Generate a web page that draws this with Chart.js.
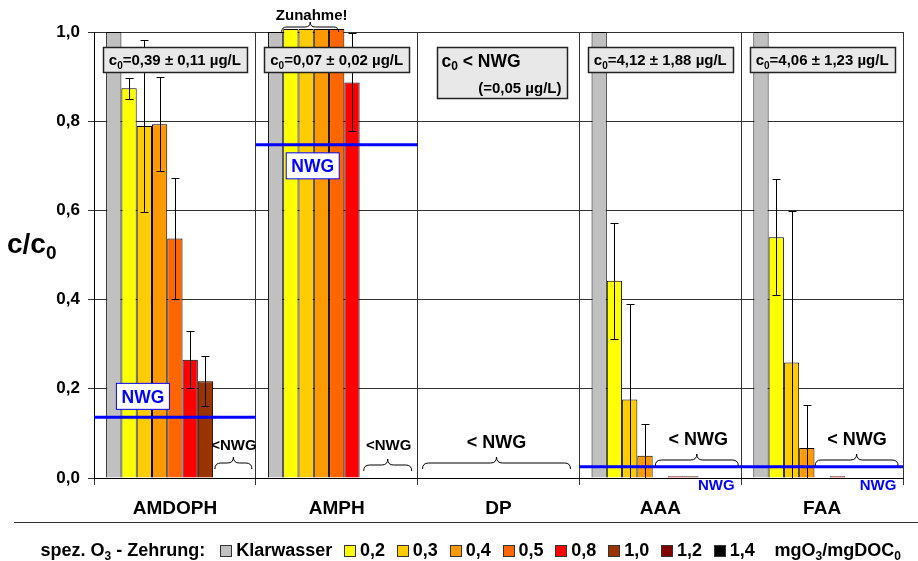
<!DOCTYPE html>
<html>
<head>
<meta charset="utf-8">
<script src="https://cdn.jsdelivr.net/npm/chart.js@4.4.1/dist/chart.umd.min.js"></script>
<style>
  html, body { margin: 0; padding: 0; background: #fff; }
</style>
</head>
<body>
<canvas id="chart" width="918" height="561"></canvas>
<script>
// categories and series
const categories = ['AMDOPH', 'AMPH', 'DP', 'AAA', 'FAA'];
const seriesLabels = ['Klarwasser', '0,2', '0,3', '0,4', '0,5', '0,8', '1,0', '1,2', '1,4'];
const seriesColors = ['#c0c0c0', '#ffff00', '#ffcc00', '#ff9900', '#ff6600', '#ff0000', '#993300', '#800000', '#000000'];

// c/c0 per category
const klarwasser = [1, 1, null, 1, 1];
const dose02 = [0.874, 1.007, null, 0.442, 0.54];
const dose03 = [0.789, 1.007, null, 0.176, 0.259];
const dose04 = [0.793, 1.007, null, 0.05, 0.067];
const dose05 = [0.537, 1.007, null, null, null];
const dose08 = [0.265, 0.887, null, 0.004, 0.004];
const dose10 = [0.217, null, null, 0.004, null];
const dose12 = [null, null, null, null, null];
const dose14 = [null, null, null, null, null];

// error bars [low, high]
const err02 = [[0.85, 0.897], null, null, [0.312, 0.572], [0.41, 0.67]];
const err03 = [[0.597, 0.982], null, null, [0, 0.39], [0, 0.599]];
const err04 = [[0.688, 0.899], null, null, [0, 0.12], [0, 0.164]];
const err05 = [[0.402, 0.672], null, null, null, null];
const err08 = [[0.202, 0.329], [0.777, 0.998], null, null, null];
const err10 = [[0.161, 0.273], null, null, null, null];

// limits and notes
const nwg = [0.136, 0.747, null, 0.025, 0.025];
const c0Text = ['c_0=0,39 ± 0,11 µg/L', 'c_0=0,07 ± 0,02 µg/L', 'c_0 < NWG', 'c_0=4,12 ± 1,88 µg/L', 'c_0=4,06 ± 1,23 µg/L'];
const c0Note = [null, null, '(=0,05 µg/L)', null, null];
const belowNwg = ['<NWG', '<NWG', '< NWG', '< NWG', '< NWG'];
const increaseText = [null, 'Zunahme!', null, null, null];

const yTicks = [0, 0.2, 0.4, 0.6, 0.8, 1.0];
const yTickLabels = ['0,0', '0,2', '0,4', '0,6', '0,8', '1,0'];
const yTitle = 'c/c_0';
const legendPrefix = 'spez. O_3 - Zehrung:';
const legendUnit = 'mgO_3/mgDOC_0';

const seriesValues = [klarwasser, dose02, dose03, dose04, dose05, dose08, dose10, dose12, dose14];
const errorSets = [null, err02, err03, err04, err05, err08, err10, null, null];

const F = "'Liberation Sans', Arial, sans-serif";

// split 'c_0' style strings into [text, isSub] parts
function parts(str) {
  const out = [];
  str.split(/_(\w)/).forEach((t, k) => { if (t) out.push([t, k % 2 === 1]); });
  return out;
}

function drawParts(ctx, str, x, y, size, align, color) {
  const p = parts(str);
  const subSize = Math.round(size * 0.68);
  const w = p.map(([t, s]) => { ctx.font = `bold ${s ? subSize : size}px ${F}`; return ctx.measureText(t).width; });
  const total = w.reduce((a, b) => a + b, 0);
  let cx = align === 'center' ? x - total / 2 : align === 'right' ? x - total : x;
  ctx.textAlign = 'left';
  ctx.textBaseline = 'alphabetic';
  ctx.fillStyle = color || '#000';
  p.forEach(([t, s], k) => {
    ctx.font = `bold ${s ? subSize : size}px ${F}`;
    ctx.fillText(t, cx, y + (s ? size * 0.22 : 0));
    cx += w[k];
  });
  return total;
}

function brace(ctx, x1, x2, y, h) {
  const mid = (x1 + x2) / 2;
  ctx.beginPath();
  ctx.moveTo(x1, y + h);
  ctx.quadraticCurveTo(x1, y, x1 + h, y);
  ctx.lineTo(mid - h, y);
  ctx.quadraticCurveTo(mid, y, mid, y - h);
  ctx.quadraticCurveTo(mid, y, mid + h, y);
  ctx.lineTo(x2 - h, y);
  ctx.quadraticCurveTo(x2, y, x2, y + h);
  ctx.stroke();
}

// offsets from category centre / plot bottom for the "<NWG" braces
const braceLayout = [
  { x1: 40, x2: 77, yb: -15, tx: 59, ty: -33, size: 15 },
  { x1: 27, x2: 75, yb: -13, tx: 52, ty: -33, size: 15 },
  { x1: -76, x2: 72, yb: -15, tx: -2, ty: -36, size: 18 },
  { x1: -5, x2: 78, yb: -18, tx: 38, ty: -39, size: 18 },
  { x1: -7, x2: 76, yb: -18, tx: 35, ty: -39, size: 18 }
];

const extras = {
  id: 'extras',
  afterDatasetsDraw(chart) {
    const { ctx, chartArea: a, scales: { x, y } } = chart;
    const catW = x.width / categories.length;
    ctx.save();

    // error bars
    errorSets.forEach((errs, d) => {
      if (!errs) return;
      const meta = chart.getDatasetMeta(d);
      errs.forEach((e, i) => {
        if (!e) return;
        const bx = Math.round(meta.data[i].x) + 0.5;
        const y1 = Math.round(y.getPixelForValue(e[0])) + 0.5;
        const y2 = Math.round(y.getPixelForValue(e[1])) + 0.5;
        ctx.strokeStyle = '#000';
        ctx.lineWidth = 1;
        ctx.beginPath();
        ctx.moveTo(bx, y1); ctx.lineTo(bx, y2);
        ctx.moveTo(bx - 4, y1); ctx.lineTo(bx + 4, y1);
        ctx.moveTo(bx - 4, y2); ctx.lineTo(bx + 4, y2);
        ctx.stroke();
      });
    });

    // NWG lines and labels
    nwg.forEach((v, i) => {
      if (v == null) return;
      const cx = x.getPixelForValue(i);
      const ly = y.getPixelForValue(v);
      ctx.strokeStyle = '#0000ff';
      ctx.lineWidth = 3;
      ctx.beginPath();
      ctx.moveTo(cx - catW / 2, ly);
      ctx.lineTo(cx + catW / 2, ly);
      ctx.stroke();
      let bx, by, boxed;
      if (i === 0) { bx = cx - 32; by = ly - 8 - 13; boxed = true; }
      else if (i === 1) { bx = cx - 24; by = ly + 8 + 13; boxed = true; }
      else { bx = cx + 56; by = a.bottom + 6; boxed = false; }
      if (boxed) {
        ctx.fillStyle = '#fff';
        ctx.fillRect(bx - 26.5, by - 13, 53, 26);
        ctx.strokeStyle = '#0000ff';
        ctx.lineWidth = 1;
        ctx.strokeRect(bx - 26.5, by - 13, 53, 26);
        drawParts(ctx, 'NWG', bx, by + 6.5, 17.5, 'center', '#0000ff');
      } else {
        ctx.fillStyle = '#fff';
        ctx.fillRect(bx - 19, by - 5, 38, 12);
        drawParts(ctx, 'NWG', bx, by + 5.5, 15, 'center', '#0000ff');
      }
    });

    // "<NWG" braces
    ctx.strokeStyle = '#000';
    ctx.lineWidth = 1;
    belowNwg.forEach((t, i) => {
      if (!t) return;
      const L = braceLayout[i];
      const cx = x.getPixelForValue(i);
      brace(ctx, cx + L.x1, cx + L.x2, a.bottom + L.yb, 6);
      drawParts(ctx, t, cx + L.tx, a.bottom + L.ty + L.size * 0.36, L.size, 'center');
    });

    // "Zunahme!"
    increaseText.forEach((t, i) => {
      if (!t) return;
      const cx = x.getPixelForValue(i);
      ctx.strokeStyle = '#000';
      ctx.lineWidth = 1;
      brace(ctx, cx - 55, cx + 2, a.top - 5, 5);
      drawParts(ctx, t, cx - 25, 20, 15, 'center');
    });

    // c0 boxes
    c0Text.forEach((t, i) => {
      if (!t) return;
      const cx = x.getPixelForValue(i);
      ctx.lineWidth = 1.5;
      ctx.strokeStyle = '#222';
      ctx.fillStyle = '#e8e8e8';
      if (c0Note[i]) {
        const bx = Math.round(cx - 62) + 0.5, by = a.top + 15.5;
        ctx.fillRect(bx, by, 130, 51);
        ctx.strokeRect(bx, by, 130, 51);
        drawParts(ctx, t, bx + 4, by + 13 + 6, 17.5, 'left');
        drawParts(ctx, c0Note[i], bx + 124, by + 40 + 5.5, 15, 'right');
      } else {
        const p = parts(t);
        let tw = 0;
        p.forEach(([s, sub]) => { ctx.font = `bold ${sub ? 10 : 15}px ${F}`; tw += ctx.measureText(s).width; });
        const w = Math.round(tw + 12);
        const bx = Math.round(cx - w / 2) + 0.5, by = a.top + 15.5;
        ctx.fillStyle = '#e8e8e8';
        ctx.fillRect(bx, by, w, 25);
        ctx.strokeRect(bx, by, w, 25);
        drawParts(ctx, t, cx, by + 12.5 + 5.4, 15, 'center');
      }
    });
    ctx.restore();
  },
  afterDraw(chart) {
    const { ctx } = chart;
    ctx.save();
    // y title
    drawParts(ctx, yTitle, 7, 253, 28, 'left');
    // separator above legend
    ctx.strokeStyle = '#333';
    ctx.lineWidth = 1;
    ctx.beginPath();
    ctx.moveTo(14, 522.5);
    ctx.lineTo(918, 522.5);
    ctx.stroke();
    // legend
    const size = 18, base = 556;
    let lx = 40.5;
    lx += drawParts(ctx, legendPrefix, lx, base, size, 'left') + 15;
    chart.data.datasets.forEach((ds) => {
      ctx.fillStyle = ds.backgroundColor;
      ctx.fillRect(Math.round(lx) + 0.5, 545.5, 11, 11);
      ctx.strokeStyle = '#333';
      ctx.lineWidth = 1;
      ctx.strokeRect(Math.round(lx) + 0.5, 545.5, 11, 11);
      lx += 16;
      lx += drawParts(ctx, ds.label, lx, base, size, 'left') + 11.8;
    });
    lx += 8;
    drawParts(ctx, legendUnit, lx, base, size, 'left');
    ctx.restore();
  }
};

new Chart(document.getElementById('chart').getContext('2d'), {
  type: 'bar',
  data: {
    labels: categories,
    datasets: seriesValues.map((vals, k) => ({
      label: seriesLabels[k],
      data: vals,
      backgroundColor: seriesColors[k],
      borderColor: '#000',
      borderWidth: 1,
      categoryPercentage: 0.85,
      barPercentage: 1,
      clip: false
    }))
  },
  options: {
    responsive: false,
    animation: false,
    layout: { padding: { top: 32, right: 15, left: 0, bottom: 0 } },
    plugins: { legend: { display: false }, tooltip: { enabled: false } },
    scales: {
      x: {
        grid: { color: '#333', offset: true, tickLength: 7 },
        border: { color: '#000' },
        ticks: { color: '#000', font: { family: F, size: 19, weight: 'bold' }, padding: 12 },
        afterFit(s) { s.height = 83; }
      },
      y: {
        min: 0,
        max: 1,
        afterBuildTicks(s) { s.ticks = yTicks.map(v => ({ value: v })); },
        ticks: { color: '#000', font: { family: F, size: 17, weight: 'bold' }, padding: 8,
          callback: (v, idx) => yTickLabels[idx] },
        grid: { color: '#333', tickLength: 6 },
        border: { color: '#000' },
        afterFit(s) { s.width = 94; }
      }
    }
  },
  plugins: [extras]
});
</script>
</body>
</html>
